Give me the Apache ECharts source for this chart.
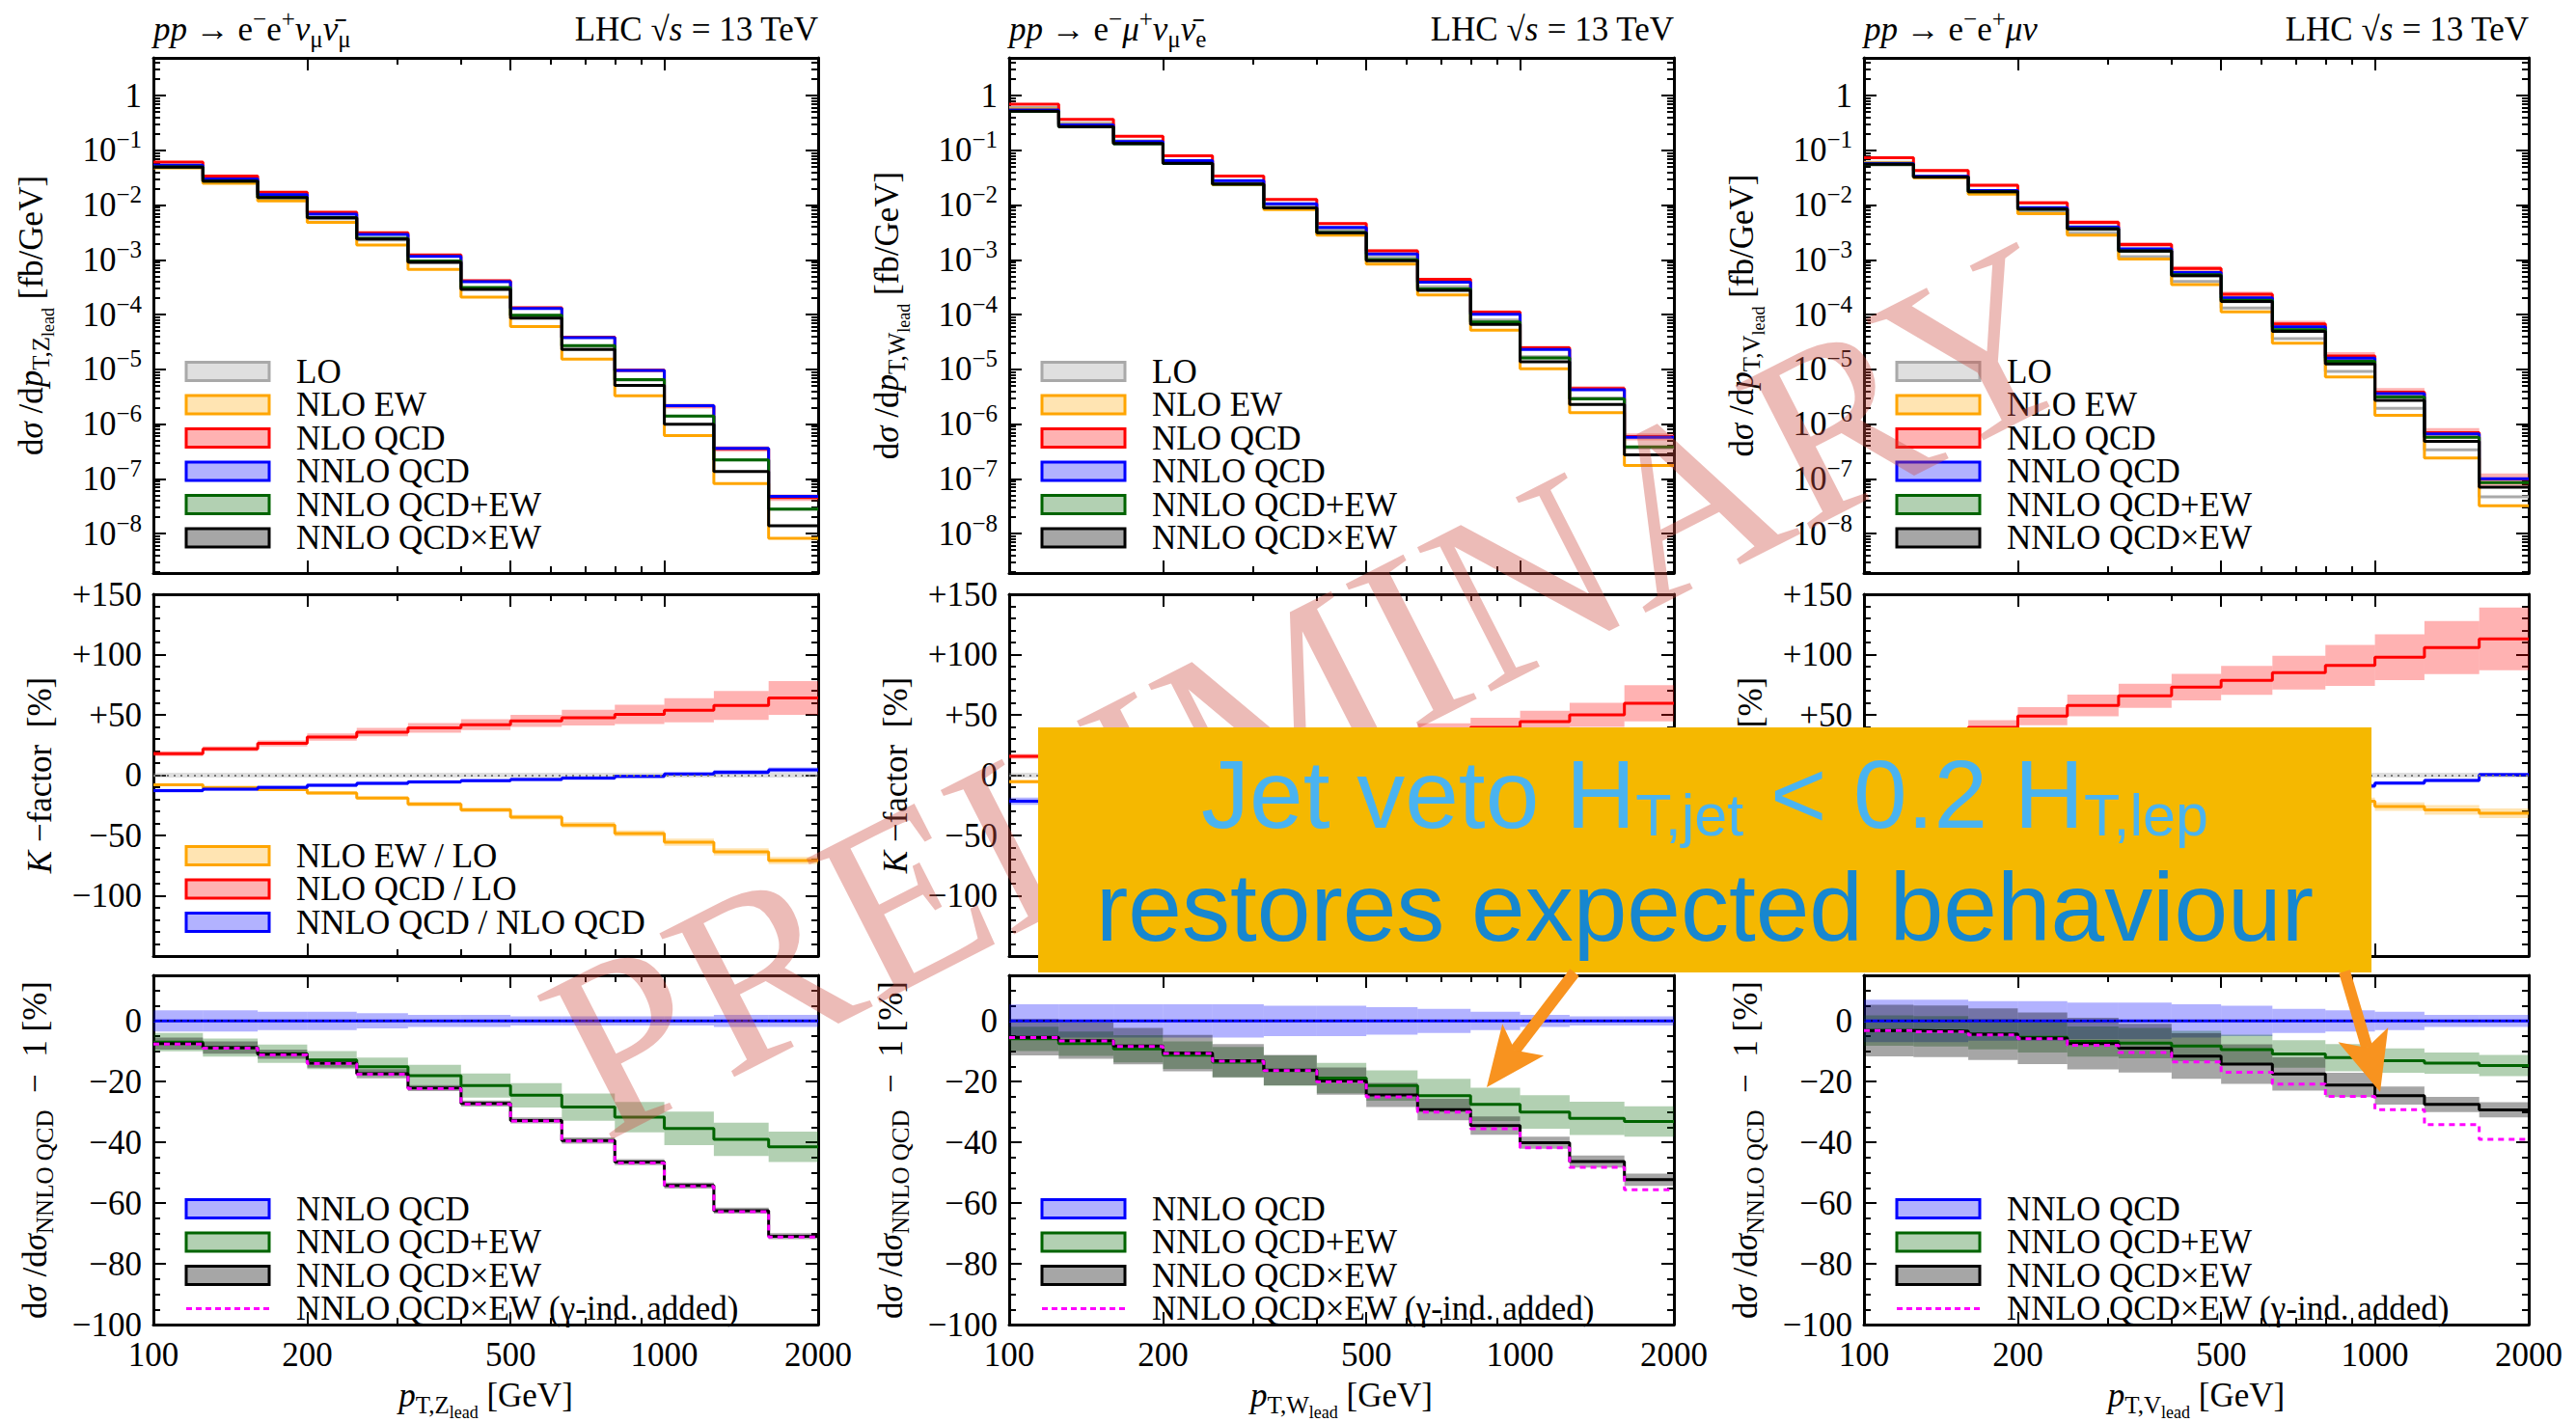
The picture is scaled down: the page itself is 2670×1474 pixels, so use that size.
<!DOCTYPE html>
<html>
<head>
<meta charset="utf-8">
<title>Diboson p_T,lead distributions</title>
<script src="https://cdn.jsdelivr.net/npm/echarts@6.0.0/dist/echarts.min.js"></script>
<style>
  html, body { margin: 0; padding: 0; background: #fff; }
  #chart { width: 2670px; height: 1474px; }
</style>
</head>
<body>
<div id="chart"></div>
<script>
// ---------------------------------------------------------------------------
// Binning and axis ticks
// ---------------------------------------------------------------------------
const ptEdges = [100, 125, 160, 200, 250, 315, 400, 500, 630, 800, 1000, 1250, 1600, 2000];
const ptTickLabels = [100, 200, 500, 1000, 2000];
const ptMajorTicks = [100, 200, 500, 1000, 2000];
const ptMinorTicks = [300, 400, 600, 700, 800, 900];
const sigmaTicks = [1e-8, 1e-7, 1e-6, 1e-5, 1e-4, 1e-3, 1e-2, 1e-1, 1];
const kFactorTicks = [-100, -50, 0, 50, 100, 150];
const ratioTicks = [-100, -80, -60, -40, -20, 0];
const SIGMA_MIN = 1.9e-9, SIGMA_MAX = 4.9;

// ratio of a prediction to itself
const unitRatio = [0, 0, 0, 0, 0, 0, 0, 0, 0, 0, 0, 0, 0];

// ---------------------------------------------------------------------------
// pp -> e- e+ nu_mu nubar_mu   (Z_lead)
// ---------------------------------------------------------------------------
const zzLO        = [0.0521, 0.0279, 0.0136, 0.00566, 0.00231, 8.84e-4, 2.94e-4, 9.24e-5, 2.63e-5, 6.38e-6, 1.39e-6, 2.24e-7, 2.79e-8];
const zzNloEW     = [0.0479, 0.0251, 0.0120, 0.00483, 0.00187, 6.72e-4, 2.09e-4, 6.03e-5, 1.54e-5, 3.30e-6, 6.19e-7, 8.18e-8, 8.17e-9];
const zzNloQCD    = [0.0614, 0.0340, 0.0172, 0.00745, 0.00313, 1.23e-3, 4.17e-4, 1.34e-4, 3.88e-5, 9.60e-6, 2.14e-6, 3.54e-7, 4.57e-8];
const zzNnloQCD   = [0.0535, 0.0301, 0.0155, 0.00683, 0.00292, 1.16e-3, 3.98e-4, 1.29e-4, 3.79e-5, 9.50e-6, 2.16e-6, 3.62e-7, 4.78e-8];
const zzNnloPlus  = [0.0498, 0.0275, 0.0138, 0.00595, 0.00248, 9.51e-4, 3.13e-4, 9.74e-5, 2.71e-5, 6.49e-6, 1.40e-6, 2.21e-7, 2.80e-8];
const zzNnloTimes = [0.0495, 0.0275, 0.0138, 0.00588, 0.00241, 9.04e-4, 2.90e-4, 8.67e-5, 2.30e-5, 5.08e-6, 9.89e-7, 1.36e-7, 1.39e-8];
const zzLoBand    = [2, 2, 2, 2, 2, 2, 2, 2, 2, 2, 2, 2, 2];
const zzKew       = [-8, -10.1, -12, -14.7, -18.9, -24, -28.8, -34.7, -41.3, -48.3, -55.5, -63.5, -70.7];
const zzKewBand   = [1, 1, 1, 1.5, 1.5, 2, 2, 2, 2.5, 2.5, 3, 3, 3];
const zzKqcd      = [17.9, 21.9, 26.4, 31.7, 35.7, 39.2, 41.9, 45, 47.7, 50.4, 53.9, 57.9, 64];
const zzKqcdBand  = [2, 2, 2.5, 3, 3.5, 4, 4.5, 5, 6.5, 8, 10, 12, 14];
const zzKnnlo     = [-12.8, -11.5, -10.1, -8.3, -6.7, -5.6, -4.5, -3.5, -2.4, -1, 1, 2.4, 4.5];
const zzKnnloBand = [1.5, 1.5, 1.5, 1.5, 1.5, 1.5, 1.5, 1.5, 1.5, 1.5, 1.5, 2, 2];
const zzRnnloBand = [3.5, 3.5, 3, 3, 2.5, 2, 2, 1.5, 1.5, 1.5, 1.5, 2, 2];
const zzRplus     = [-7, -8.8, -10.8, -12.9, -15.1, -18, -21.3, -24.5, -28.4, -31.7, -35.4, -39, -41.5];
const zzRplusBand = [3, 3, 3, 3, 3, 3.5, 4, 4, 4.5, 5, 5.5, 5.5, 5];
const zzRtimes    = [-7.5, -8.8, -11, -13.9, -17.4, -22.1, -27.2, -32.8, -39.4, -46.5, -54.2, -62.5, -70.9];
const zzRtimesBand= [2, 2, 1.5, 1.5, 1.5, 1, 1, 1, 1, 1, 1, 1, 1];
const zzRgamma    = [-7.6, -9, -11.2, -14.1, -17.6, -22.3, -27.4, -33, -39.6, -46.8, -54.5, -62.8, -71.2];

// ---------------------------------------------------------------------------
// pp -> e- mu+ nu_mu nubar_e   (W_lead)
// ---------------------------------------------------------------------------
const wwLO        = [0.605, 0.314, 0.150, 0.0650, 0.0271, 9.92e-3, 3.52e-3, 1.11e-3, 3.24e-4, 7.95e-5, 1.71e-5, 2.99e-6, 3.69e-7];
const wwNloEW     = [0.572, 0.294, 0.138, 0.0581, 0.0236, 8.31e-3, 2.82e-3, 8.39e-4, 2.29e-4, 5.21e-5, 1.02e-5, 1.61e-6, 1.76e-7];
const wwNloQCD    = [0.700, 0.370, 0.181, 0.0800, 0.0340, 1.27e-2, 4.60e-3, 1.47e-3, 4.40e-4, 1.11e-4, 2.47e-5, 4.48e-6, 5.90e-7];
const wwNnloQCD   = [0.549, 0.292, 0.145, 0.0648, 0.0279, 1.06e-2, 3.91e-3, 1.28e-3, 3.92e-4, 1.01e-4, 2.30e-5, 4.26e-6, 5.72e-7];
const wwNnloPlus  = [0.517, 0.270, 0.132, 0.0575, 0.0241, 8.86e-3, 3.17e-3, 1.01e-3, 2.96e-4, 7.32e-5, 1.61e-5, 2.89e-6, 3.83e-7];
const wwNnloTimes = [0.519, 0.273, 0.133, 0.0579, 0.0242, 8.88e-3, 3.14e-3, 9.68e-4, 2.78e-4, 6.62e-5, 1.38e-5, 2.29e-6, 2.73e-7];
const wwLoBand    = [2, 2, 2, 2, 2, 2, 2, 2, 2, 2, 2, 2, 2];
const wwKew       = [-5.4, -6.5, -8.3, -10.6, -13.1, -16.2, -19.8, -24.4, -29.2, -34.5, -40.1, -46.3, -52.3];
const wwKewBand   = [1.5, 1.5, 1.5, 1.5, 2, 2, 2, 2.5, 2.5, 3, 3, 3.5, 3.5];
const wwKqcd      = [15.7, 18, 20.5, 23, 25.5, 28, 30.5, 33, 36, 39.7, 44.5, 50, 59.7];
const wwKqcdBand  = [2, 2.5, 3, 3.5, 4, 4.5, 5, 6, 7, 8, 9, 10, 15];
const wwKnnlo     = [-21.6, -21, -20, -19, -18, -16.5, -15, -13, -11, -9, -7, -5, -3];
const wwKnnloBand = [3, 3, 3, 2.5, 2.5, 2.5, 2, 2, 2, 2, 2, 2, 2];
const wwRnnloBand = [5.5, 5.5, 5.5, 5.5, 5.5, 5, 5, 4.5, 4, 3, 2, 1.5, 1.5];
const wwRplus     = [-5.9, -7.5, -9.2, -11.3, -13.6, -16.4, -18.8, -21.3, -24.6, -27.5, -30, -32.1, -33.1];
const wwRplusBand = [4, 4, 4.5, 4.5, 5, 5, 5, 5, 5.5, 5.5, 5.5, 5.5, 5];
const wwRtimes    = [-5.4, -6.5, -8.3, -10.6, -13.1, -16.2, -19.8, -24.4, -29.2, -34.5, -40.1, -46.3, -52.3];
const wwRtimesBand= [6, 6, 6, 6, 5.5, 5, 4.5, 4, 3.5, 3, 2, 2, 2];
const wwRgamma    = [-5.5, -6.6, -8.4, -10.7, -13.3, -16.4, -20.1, -25, -30, -35.5, -41.8, -48.2, -55.6];

// ---------------------------------------------------------------------------
// pp -> e- e+ mu nu   (V_lead)
// ---------------------------------------------------------------------------
const wzLO        = [0.0603, 0.0326, 0.0165, 0.00742, 0.00307, 1.15e-3, 4.03e-4, 1.32e-4, 3.66e-5, 9.21e-6, 1.94e-6, 3.38e-7, 4.68e-8];
const wzNloEW     = [0.0585, 0.0315, 0.0158, 0.00697, 0.00282, 1.04e-3, 3.53e-4, 1.12e-4, 3.00e-5, 7.23e-6, 1.44e-6, 2.41e-7, 3.21e-8];
const wzNloQCD    = [0.0736, 0.0427, 0.0230, 0.01106, 0.00485, 1.91e-3, 6.97e-4, 2.35e-4, 6.78e-5, 1.76e-5, 3.84e-6, 6.95e-7, 9.96e-8];
const wzNnloQCD   = [0.0574, 0.0337, 0.0184, 0.00896, 0.00398, 1.59e-3, 5.85e-4, 2.02e-4, 5.97e-5, 1.60e-5, 3.59e-6, 6.65e-7, 1.00e-7];
const wzNnloPlus  = [0.0556, 0.0326, 0.0176, 0.00848, 0.00371, 1.47e-3, 5.36e-4, 1.83e-4, 5.32e-5, 1.41e-5, 3.12e-6, 5.73e-7, 8.53e-8];
const wzNnloTimes = [0.0556, 0.0326, 0.0176, 0.00845, 0.00368, 1.45e-3, 5.17e-4, 1.73e-4, 4.93e-5, 1.26e-5, 2.71e-6, 4.82e-7, 7.07e-8];
const wzLoBand    = [2, 2, 2, 2, 2, 2, 2, 2, 2, 2, 2, 2, 2];
const wzKew       = [-3, -3.5, -4.5, -6, -8, -10, -12.5, -15, -18, -21.5, -26, -28.8, -31.5];
const wzKewBand   = [1, 1, 1.5, 1.5, 2, 2, 2.5, 2.5, 3, 3, 3.5, 4, 4];
const wzKqcd      = [22, 31, 39.7, 49, 57.9, 65.9, 73, 78.7, 85, 91, 97.9, 105.9, 113];
const wzKqcdBand  = [5, 5.5, 6, 7.5, 9, 10, 11, 12, 14, 17, 19, 22, 26];
const wzKnnlo     = [-22, -21, -20, -19, -18, -17, -16, -14, -12, -9, -6.5, -4.3, 0.5];
const wzKnnloBand = [2, 2, 2, 2, 2, 2, 2, 2, 2, 2, 1.5, 1.5, 1.5];
const wzRnnloBand = [7, 7, 6.5, 6.5, 6, 6, 5.5, 5, 4, 3.5, 3, 2, 2];
const wzRplus     = [-3.2, -3.4, -4.4, -5.4, -6.8, -7.3, -8.3, -9.5, -10.9, -12.1, -13.1, -13.9, -14.7];
const wzRplusBand = [5, 5, 5, 5, 5, 5, 5, 5, 4.5, 4.5, 4, 3.5, 3.5];
const wzRtimes    = [-3.2, -3.4, -4.4, -5.7, -7.5, -9, -11.6, -14.2, -17.5, -21.1, -24.6, -27.5, -29.3];
const wzRtimesBand= [8.5, 8.5, 8.5, 8.5, 8.5, 8, 7.5, 6.5, 5.5, 4, 3, 2.5, 2.5];
const wzRgamma    = [-3.2, -3.6, -4.6, -5.9, -8, -10.4, -13.5, -16.9, -20.8, -24.9, -29.2, -34.2, -39];

// ---------------------------------------------------------------------------
// Legend texts
// ---------------------------------------------------------------------------
const topLegend = ['LO', 'NLO EW', 'NLO QCD', 'NNLO QCD', 'NNLO QCD+EW', 'NNLO QCD×EW'];
const kLegend = ['NLO EW / LO', 'NLO QCD / LO', 'NNLO QCD / NLO QCD'];
const ratioLegend = ['NNLO QCD', 'NNLO QCD+EW', 'NNLO QCD×EW', 'NNLO QCD×EW (γ-ind. added)'];

// ---------------------------------------------------------------------------
// Styling
// ---------------------------------------------------------------------------
const SERIF = '"Liberation Serif", "Times New Roman", serif';
const SANS = '"Liberation Sans", Arial, Helvetica, sans-serif';
const STY = {
  lo:    { line: '#a9a9a9', fill: 'rgba(150,150,150,0.30)' },
  ew:    { line: '#ffa500', fill: 'rgba(255,165,0,0.30)' },
  qcd:   { line: '#ff0000', fill: 'rgba(255,0,0,0.30)' },
  nnlo:  { line: '#0000ff', fill: 'rgba(0,0,255,0.30)' },
  plus:  { line: '#006400', fill: 'rgba(0,100,0,0.30)' },
  times: { line: '#000000', fill: 'rgba(0,0,0,0.35)' },
  gamma: '#ff00ff'
};
const COL_LEFT = [159, 1046, 1932];
const COL_W = 689;
const ROWS = [{ top: 60, h: 534 }, { top: 616, h: 375 }, { top: 1011, h: 376 }];

function richSet(size) {
  const base = { fontFamily: SERIF, color: '#000', fill: '#000' };
  return {
    t:   Object.assign({}, base, { fontSize: size }),
    i:   Object.assign({}, base, { fontSize: size, fontStyle: 'italic' }),
    s:   Object.assign({}, base, { fontSize: Math.round(size * 0.72), padding: [20, 0, 0, 0] }),
    ss:  Object.assign({}, base, { fontSize: Math.round(size * 0.52), padding: [36, 0, 0, 0] }),
    sup: Object.assign({}, base, { fontSize: Math.round(size * 0.7), padding: [0, 0, 22, 0] })
  };
}

const columns = [
  {
    proc: '{i|pp}{t| → e}{sup|−}{t|e}{sup|+}{i|ν}{s|μ}{i|ν̄}{s|μ}', boson: 'Z',
    lo: zzLO, ew: zzNloEW, qcd: zzNloQCD, nnlo: zzNnloQCD, plus: zzNnloPlus, times: zzNnloTimes,
    loBand: zzLoBand, kew: zzKew, kewBand: zzKewBand, kqcd: zzKqcd, kqcdBand: zzKqcdBand,
    knnlo: zzKnnlo, knnloBand: zzKnnloBand, rnnloBand: zzRnnloBand, rplus: zzRplus, rplusBand: zzRplusBand,
    rtimes: zzRtimes, rtimesBand: zzRtimesBand, rgamma: zzRgamma
  },
  {
    proc: '{i|pp}{t| → e}{sup|−}{i|μ}{sup|+}{i|ν}{s|μ}{i|ν̄}{s|e}', boson: 'W',
    lo: wwLO, ew: wwNloEW, qcd: wwNloQCD, nnlo: wwNnloQCD, plus: wwNnloPlus, times: wwNnloTimes,
    loBand: wwLoBand, kew: wwKew, kewBand: wwKewBand, kqcd: wwKqcd, kqcdBand: wwKqcdBand,
    knnlo: wwKnnlo, knnloBand: wwKnnloBand, rnnloBand: wwRnnloBand, rplus: wwRplus, rplusBand: wwRplusBand,
    rtimes: wwRtimes, rtimesBand: wwRtimesBand, rgamma: wwRgamma
  },
  {
    proc: '{i|pp}{t| → e}{sup|−}{t|e}{sup|+}{i|μν}', boson: 'V',
    lo: wzLO, ew: wzNloEW, qcd: wzNloQCD, nnlo: wzNnloQCD, plus: wzNnloPlus, times: wzNnloTimes,
    loBand: wzLoBand, kew: wzKew, kewBand: wzKewBand, kqcd: wzKqcd, kqcdBand: wzKqcdBand,
    knnlo: wzKnnlo, knnloBand: wzKnnloBand, rnnloBand: wzRnnloBand, rplus: wzRplus, rplusBand: wzRplusBand,
    rtimes: wzRtimes, rtimesBand: wzRtimesBand, rgamma: wzRgamma
  }
];

// ---------------------------------------------------------------------------
// Builders
// ---------------------------------------------------------------------------
const grids = [], xAxis = [], yAxis = [], series = [], graphics = [];
const AXIS_LINE = { show: true, onZero: false, lineStyle: { color: '#000', width: 3 } };
const TICK_STYLE = { color: '#000', width: 2 };

function addGrid(left, row) {
  grids.push({ left: left, top: row.top, width: COL_W, height: row.h, show: false });
  return grids.length - 1;
}

function addX(g, withLabels, name) {
  let main = -1;
  const base = () => ({
    gridIndex: g, type: 'log', logBase: 10, min: ptEdges[0], max: ptEdges[ptEdges.length - 1],
    splitLine: { show: false }, minorTick: { show: false }, axisPointer: { show: false }
  });
  ['bottom', 'top'].forEach(pos => {
    const major = Object.assign(base(), {
      position: pos, axisLine: AXIS_LINE,
      axisTick: { show: true, inside: true, length: 13, customValues: ptMajorTicks, lineStyle: TICK_STYLE },
      axisLabel: { show: false }
    });
    if (pos === 'bottom' && withLabels) {
      major.axisLabel = {
        show: true, customValues: ptTickLabels, formatter: v => String(Math.round(v)),
        margin: 14, color: '#000', fontFamily: SERIF, fontSize: 35
      };
      major.name = name;
      major.nameLocation = 'middle';
      major.nameGap = 46;
      major.nameTextStyle = { color: '#000', fontFamily: SERIF, fontSize: 35, rich: richSet(35) };
    }
    xAxis.push(major);
    if (pos === 'bottom') main = xAxis.length - 1;
    xAxis.push(Object.assign(base(), {
      position: pos, axisLine: { show: false, onZero: false },
      axisTick: { show: true, inside: true, length: 7, customValues: ptMinorTicks, lineStyle: TICK_STYLE },
      axisLabel: { show: false }
    }));
  });
  return main;
}

const sigmaMinorTicks = [];
for (let e = -9; e <= 0; e++) {
  for (let m = 2; m <= 9; m++) {
    const v = m * Math.pow(10, e);
    if (v > SIGMA_MIN && v < SIGMA_MAX) sigmaMinorTicks.push(v);
  }
}

function sigmaLabel(v) {
  const e = Math.round(Math.log10(v));
  return e === 0 ? '{t|1}' : '{t|10}{sup|−' + (-e) + '}';
}

function signedLabel(v) {
  if (v > 0) return '{t|+' + v + '}';
  if (v < 0) return '{t|−' + (-v) + '}';
  return '{t|0}';
}

function yName(name) {
  return {
    name: name, nameLocation: 'middle', nameRotate: 90, nameGap: 100,
    nameTextStyle: { color: '#000', fontFamily: SERIF, fontSize: 35, rich: richSet(35) }
  };
}

function addLogY(g, name) {
  let main = -1;
  ['left', 'right'].forEach(pos => {
    const base = () => ({
      gridIndex: g, type: 'log', logBase: 10, min: SIGMA_MIN, max: SIGMA_MAX, position: pos,
      splitLine: { show: false }, minorTick: { show: false }, axisPointer: { show: false }
    });
    const major = Object.assign(base(), {
      axisLine: AXIS_LINE,
      axisTick: { show: true, inside: true, length: 13, customValues: sigmaTicks, lineStyle: TICK_STYLE },
      axisLabel: { show: false }
    });
    if (pos === 'left') {
      major.axisLabel = { show: true, customValues: sigmaTicks, formatter: sigmaLabel, margin: 12, rich: richSet(35) };
      Object.assign(major, yName(name));
    }
    yAxis.push(major);
    if (pos === 'left') main = yAxis.length - 1;
    yAxis.push(Object.assign(base(), {
      axisLine: { show: false, onZero: false },
      axisTick: { show: true, inside: true, length: 7, customValues: sigmaMinorTicks, lineStyle: TICK_STYLE },
      axisLabel: { show: false }
    }));
  });
  return main;
}

function addValueY(g, min, max, interval, minorSplit, labels, name) {
  let main = -1;
  ['left', 'right'].forEach(pos => {
    const ax = {
      gridIndex: g, type: 'value', min: min, max: max, interval: interval, position: pos,
      axisLine: AXIS_LINE, splitLine: { show: false }, axisPointer: { show: false },
      axisTick: { show: true, inside: true, length: 13, lineStyle: TICK_STYLE },
      minorTick: { show: true, splitNumber: minorSplit, length: 7, lineStyle: TICK_STYLE },
      axisLabel: { show: false }
    };
    if (pos === 'left') {
      ax.axisLabel = { show: true, customValues: labels, formatter: signedLabel, margin: 12, rich: richSet(35) };
      Object.assign(ax, yName(name));
    }
    yAxis.push(ax);
    if (pos === 'left') main = yAxis.length - 1;
  });
  return main;
}

// filled uncertainty rectangles, one per bin
function bandSeries(xi, yi, lo, hi, fill) {
  const data = lo.map((l, i) => [ptEdges[i], ptEdges[i + 1], l, hi[i]]);
  return {
    type: 'custom', xAxisIndex: xi, yAxisIndex: yi, data: data, silent: true, z: 1, clip: true,
    encode: { x: [0, 1], y: [2, 3] },
    renderItem: (params, api) => {
      const a = api.coord([api.value(0), api.value(3)]);
      const b = api.coord([api.value(1), api.value(2)]);
      return { type: 'rect', shape: { x: a[0], y: a[1], width: b[0] - a[0], height: b[1] - a[1] }, style: { fill: fill } };
    }
  };
}
const relLo = (v, u) => v.map((x, i) => x * (1 - u[i] / 100));
const relHi = (v, u) => v.map((x, i) => x * (1 + u[i] / 100));
const absLo = (v, u) => v.map((x, i) => x - u[i]);
const absHi = (v, u) => v.map((x, i) => x + u[i]);

// histogram outline
function stepSeries(xi, yi, vals, color, dash, z) {
  const data = vals.map((v, i) => [ptEdges[i], v]);
  data.push([ptEdges[ptEdges.length - 1], vals[vals.length - 1]]);
  return {
    type: 'line', xAxisIndex: xi, yAxisIndex: yi, data: data, step: 'end',
    showSymbol: false, symbol: 'none', silent: true, z: z || 3, clip: true,
    lineStyle: { color: color, width: 3, type: dash || 'solid' }
  };
}

function zeroRule(xi, yi, color) {
  return {
    type: 'line', xAxisIndex: xi, yAxisIndex: yi, data: [], silent: true, z: 6,
    markLine: {
      silent: true, symbol: ['none', 'none'], label: { show: false },
      lineStyle: { color: color, width: 2, type: [2, 5] },
      data: [{ yAxis: 0 }]
    }
  };
}

// legend block drawn with graphic primitives
function legendBlock(left, rowTop, firstOffset, labels, styles) {
  labels.forEach((label, k) => {
    const y = rowTop + firstOffset + k * 34.5;
    const st = styles[k];
    if (st.dash) {
      graphics.push({ type: 'line', z: 10, shape: { x1: left + 34, y1: y, x2: left + 120, y2: y },
        style: { stroke: st.line, lineWidth: 3, lineDash: [6, 4] } });
    } else {
      graphics.push({ type: 'rect', z: 10, shape: { x: left + 34, y: y - 9.5, width: 86, height: 19 },
        style: { fill: st.fill, stroke: st.line, lineWidth: 3 } });
    }
    graphics.push({ type: 'text', z: 10, x: left + 148, y: y,
      style: { text: label, font: '35px ' + SERIF, fill: '#000', textAlign: 'left', textVerticalAlign: 'middle' } });
  });
}

// ---------------------------------------------------------------------------
// Assemble the three columns
// ---------------------------------------------------------------------------
columns.forEach((col, c) => {
  const L = COL_LEFT[c];
  const gT = addGrid(L, ROWS[0]);
  const gM = addGrid(L, ROWS[1]);
  const gB = addGrid(L, ROWS[2]);
  const b = col.boson;

  const xT = addX(gT, false);
  const yT = addLogY(gT, '{t|d}{i|σ}{t| /d}{i|p}{s|T,' + b + '}{ss|lead}{t| [fb/GeV]}');
  const xM = addX(gM, false);
  const yM = addValueY(gM, -150, 150, 50, 5, kFactorTicks, '{i|K}{t| −factor  [%]}');
  const xB = addX(gB, true, '{i|p}{s|T,' + b + '}{ss|lead}{t| [GeV]}');
  const yB = addValueY(gB, -100, 15, 20, 4, ratioTicks, '{t|d}{i|σ}{t| /d}{i|σ}{s|NNLO QCD}{t|  −  1 [%]}');

  // differential cross sections
  const topSets = [
    [col.lo, col.loBand, STY.lo], [col.ew, col.kewBand, STY.ew], [col.qcd, col.kqcdBand, STY.qcd],
    [col.nnlo, col.rnnloBand, STY.nnlo], [col.plus, col.rplusBand, STY.plus], [col.times, col.rtimesBand, STY.times]
  ];
  topSets.forEach(s => series.push(bandSeries(xT, yT, relLo(s[0], s[1]), relHi(s[0], s[1]), s[2].fill)));
  topSets.forEach((s, k) => series.push(stepSeries(xT, yT, s[0], s[2].line, null, 3 + k * 0.01)));

  // K-factors
  series.push(bandSeries(xM, yM, absLo(unitRatio, col.loBand), absHi(unitRatio, col.loBand), 'rgba(150,150,150,0.30)'));
  const kSets = [[col.kew, col.kewBand, STY.ew], [col.kqcd, col.kqcdBand, STY.qcd], [col.knnlo, col.knnloBand, STY.nnlo]];
  kSets.forEach(s => series.push(bandSeries(xM, yM, absLo(s[0], s[1]), absHi(s[0], s[1]), s[2].fill)));
  kSets.forEach(s => series.push(stepSeries(xM, yM, s[0], s[2].line)));
  series.push(zeroRule(xM, yM, '#777777'));

  // ratios to NNLO QCD
  const rSets = [[unitRatio, col.rnnloBand, STY.nnlo], [col.rplus, col.rplusBand, STY.plus], [col.rtimes, col.rtimesBand, STY.times]];
  rSets.forEach(s => series.push(bandSeries(xB, yB, absLo(s[0], s[1]), absHi(s[0], s[1]), s[2].fill)));
  rSets.forEach(s => series.push(stepSeries(xB, yB, s[0], s[2].line)));
  series.push(stepSeries(xB, yB, col.rgamma, STY.gamma, [6, 5], 4));
  series.push(zeroRule(xB, yB, '#000060'));

  // panel headers
  graphics.push({ type: 'text', z: 10, x: L, y: 30,
    style: { text: col.proc, rich: richSet(35), font: '35px ' + SERIF, fill: '#000', textAlign: 'left', textVerticalAlign: 'middle' } });
  graphics.push({ type: 'text', z: 10, x: L + COL_W, y: 30,
    style: { text: '{t|LHC }{t|√}{i|s}{t| = 13 TeV}', rich: richSet(35), font: '35px ' + SERIF, fill: '#000', textAlign: 'right', textVerticalAlign: 'middle' } });

  // legends
  legendBlock(L, ROWS[0].top, 325, topLegend, [STY.lo, STY.ew, STY.qcd, STY.nnlo, STY.plus, STY.times]);
  legendBlock(L, ROWS[1].top, 271, kLegend, [STY.ew, STY.qcd, STY.nnlo]);
  legendBlock(L, ROWS[2].top, 242, ratioLegend, [STY.nnlo, STY.plus, STY.times, { line: STY.gamma, dash: true }]);
});

// ---------------------------------------------------------------------------
// Overlay: watermark, note box and arrows
// ---------------------------------------------------------------------------
graphics.push({
  type: 'text', z: 20, x: 1360, y: 714, rotation: 27 * Math.PI / 180,
  style: { text: 'PRELIMINARY', font: '256px ' + SERIF, fill: 'rgba(205,75,65,0.38)', textAlign: 'center', textVerticalAlign: 'middle' }
});

const NOTE_BOX = { x: 1076, y: 754, w: 1382, h: 254 };
graphics.push({ type: 'rect', z: 30, shape: { x: NOTE_BOX.x, y: NOTE_BOX.y, width: NOTE_BOX.w, height: NOTE_BOX.h }, style: { fill: '#f5b800' } });
const NOTE_LIGHT = '#4ab3f0', NOTE_DARK = '#1787cf';
graphics.push({
  type: 'text', z: 31, x: NOTE_BOX.x + NOTE_BOX.w / 2, y: 823,
  style: {
    text: '{m|Jet veto H}{s|T,jet}{m| < 0.2 H}{s|T,lep}', textAlign: 'center', textVerticalAlign: 'middle',
    font: '100px ' + SANS, fill: NOTE_LIGHT,
    rich: {
      m: { fontFamily: SANS, fontSize: 100, fill: NOTE_LIGHT, color: NOTE_LIGHT },
      s: { fontFamily: SANS, fontSize: 61, fill: NOTE_LIGHT, color: NOTE_LIGHT, padding: [44, 0, 0, 0] }
    }
  }
});
graphics.push({
  type: 'text', z: 31, x: NOTE_BOX.x + NOTE_BOX.w / 2, y: 940,
  style: { text: 'restores expected behaviour', textAlign: 'center', textVerticalAlign: 'middle', font: '100px ' + SANS, fill: NOTE_DARK }
});

const ARROW = '#f8931f';
function arrow(x1, y1, x2, y2) {
  const dx = x2 - x1, dy = y2 - y1, len = Math.hypot(dx, dy), ux = dx / len, uy = dy / len;
  const headLen = 62, headHalf = 27, notch = 14;
  const bx = x2 - ux * headLen, by = y2 - uy * headLen;
  const nx = bx + ux * notch, ny = by + uy * notch;
  graphics.push({ type: 'line', z: 30, shape: { x1: x1, y1: y1, x2: nx, y2: ny }, style: { stroke: ARROW, lineWidth: 12 } });
  graphics.push({ type: 'polygon', z: 30,
    shape: { points: [[x2, y2], [bx - uy * headHalf, by + ux * headHalf], [nx, ny], [bx + uy * headHalf, by - ux * headHalf]] },
    style: { fill: ARROW } });
}
arrow(1632, 1008, 1541, 1127);
arrow(2430, 1007, 2467, 1132);

// ---------------------------------------------------------------------------
const chart = echarts.init(document.getElementById('chart'), null, { renderer: 'svg', width: 2670, height: 1474 });
chart.setOption({
  animation: false,
  backgroundColor: '#ffffff',
  textStyle: { fontFamily: SERIF, color: '#000' },
  grid: grids,
  xAxis: xAxis,
  yAxis: yAxis,
  series: series,
  graphic: { elements: graphics }
});
</script>
</body>
</html>
